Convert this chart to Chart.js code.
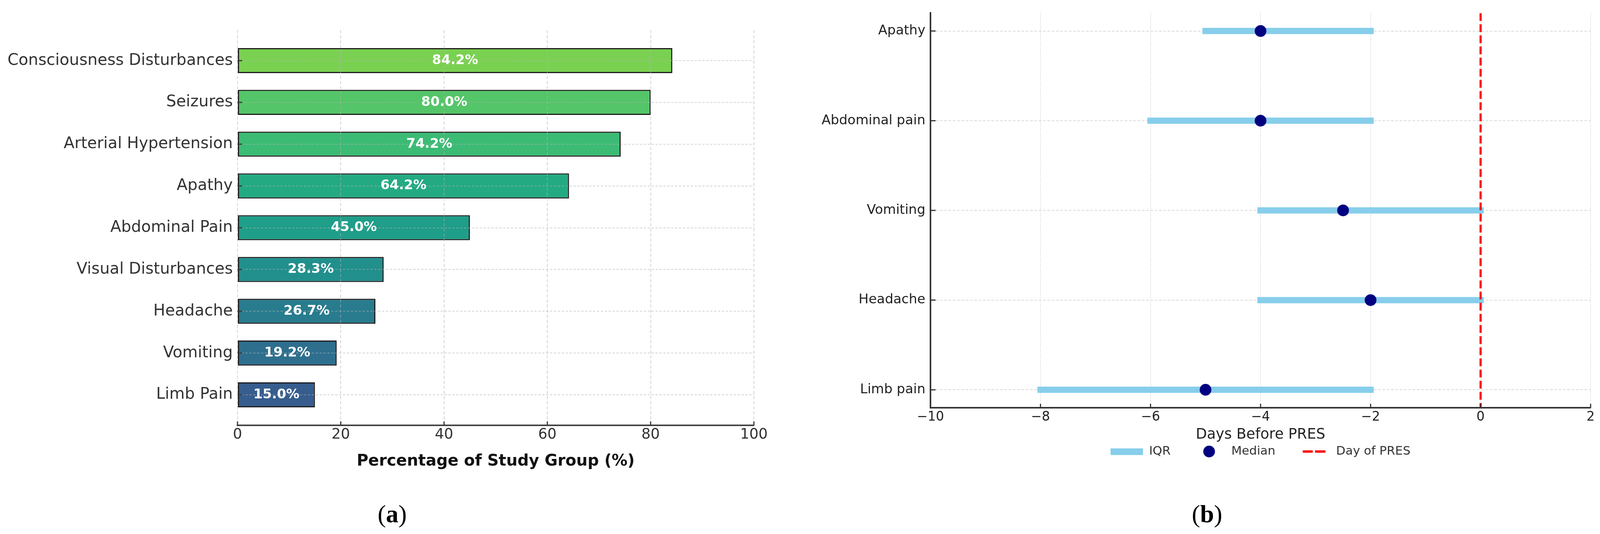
<!DOCTYPE html>
<html>
<head>
<meta charset="utf-8">
<script src="https://cdn.jsdelivr.net/npm/chart.js@4.4.1/dist/chart.umd.min.js"></script>
<style>
  html, body { margin: 0; padding: 0; background: #ffffff; }
  body { width: 4104px; height: 1366px; position: relative; overflow: hidden; }
  canvas { position: absolute; top: 0; }
  .panel { position: absolute; top: 1283px; width: 200px; text-align: center;
           font-family: "Liberation Serif", "Times New Roman", serif; font-size: 64px; line-height: 64px; color: #000; }
  .panel b { font-weight: bold; }
</style>
</head>
<body>
<canvas id="chartA" width="2000" height="1366" style="left:0px;width:2000px;height:1366px"></canvas>
<canvas id="chartB" width="2054" height="1366" style="left:2050px;width:2054px;height:1366px"></canvas>
<div class="panel" style="left:904px">(<b>a</b>)</div>
<div class="panel" style="left:2990px">(<b>b</b>)</div>
<script>
// ---------------- data: panel (a) ----------------
const symptomsA = ['Consciousness Disturbances', 'Seizures', 'Arterial Hypertension', 'Apathy',
                   'Abdominal Pain', 'Visual Disturbances', 'Headache', 'Vomiting', 'Limb Pain'];
const percentA = [84.2, 80.0, 74.2, 64.2, 45.0, 28.3, 26.7, 19.2, 15.0];
const xTicksA = [0, 20, 40, 60, 80, 100];
const titleA = 'Percentage of Study Group (%)';

// ---------------- data: panel (b) ----------------
const symptomsB = ['Apathy', 'Abdominal pain', 'Vomiting', 'Headache', 'Limb pain'];
const iqrLow = [-5, -6, -4, -4, -8];
const iqrHigh = [-2, -2, 0, 0, -2];
const medianDays = [-4, -4, -2.5, -2, -5];
const presDay = 0;
const xTicksB = [-10, -8, -6, -4, -2, 0, 2];
const titleB = 'Days Before PRES';
const legendB = ['IQR', 'Median', 'Day of PRES'];

// ---------------- styles ----------------
const FONT = '"DejaVu Sans", "Noto Sans", sans-serif';
const barColorsA = ['#7AD151', '#54C568', '#3CBB75', '#23AA83', '#1F9E89', '#21908D', '#287C8E', '#2E6F8E', '#365D8D'];

// inside tick marks (drawn from the library's scales)
const insideTicks = {
  id: 'insideTicks',
  afterDraw(chart, args, o) {
    const {ctx, chartArea} = chart;
    const xs = chart.scales.x, ys = chart.scales.y;
    ctx.save();
    ctx.strokeStyle = o.color;
    ctx.lineWidth = o.width;
    xs.ticks.forEach(t => {
      const px = xs.getPixelForValue(t.value);
      ctx.beginPath(); ctx.moveTo(px, chartArea.bottom); ctx.lineTo(px, chartArea.bottom - o.xLen); ctx.stroke();
    });
    ys.ticks.forEach(t => {
      const py = ys.getPixelForValue(t.value);
      ctx.beginPath(); ctx.moveTo(chartArea.left, py); ctx.lineTo(chartArea.left + o.yLen, py); ctx.stroke();
    });
    ctx.restore();
  }
};

// value labels in the middle of each bar
const barValueLabels = {
  id: 'barValueLabels',
  afterDraw(chart) {
    const ctx = chart.ctx;
    const meta = chart.getDatasetMeta(0);
    ctx.save();
    ctx.font = 'bold 34px ' + FONT;
    ctx.fillStyle = '#ffffff';
    ctx.textAlign = 'center';
    ctx.textBaseline = 'middle';
    meta.data.forEach((bar, i) => {
      const p = bar.getProps(['x', 'y', 'base'], true);
      ctx.fillText(percentA[i].toFixed(1) + '%', (p.x + p.base) / 2, p.y);
    });
    ctx.restore();
  }
};

// ---------------- chart (a) ----------------
new Chart(document.getElementById('chartA'), {
  type: 'bar',
  data: {
    datasets: [{
      data: percentA.map((v, i) => ({x: v, y: i})),
      backgroundColor: barColorsA,
      borderColor: '#1e1e1e',
      borderWidth: 3,
      borderSkipped: false,
      barPercentage: 0.6,
      categoryPercentage: 1.0
    }]
  },
  options: {
    indexAxis: 'y',
    responsive: false,
    devicePixelRatio: 1,
    animation: false,
    events: [],
    layout: { padding: { left: 0, right: 70, top: 77, bottom: 0 } },
    plugins: { legend: { display: false }, tooltip: { enabled: false },
               insideTicks: { color: '#3a3a3a', width: 3, xLen: 10, yLen: 12 } },
    scales: {
      x: {
        type: 'linear', min: 0, max: 100, offset: false,
        afterBuildTicks: axis => { axis.ticks = xTicksA.map(v => ({value: v})); },
        afterFit: s => { s.height = 278; },
        ticks: { font: { family: FONT, size: 37 }, color: '#333', padding: 2 },
        grid: { drawTicks: false, offset: false, color: 'rgba(176,176,176,0.55)', lineWidth: 2, z: 1 },
        border: { display: true, color: '#444', width: 4, dash: [8, 5], z: 1 },
        title: { display: true, text: titleA, color: '#111',
                 font: { family: FONT, size: 40.5, weight: 'bold' },
                 padding: { top: 0, bottom: 161.7 } }
      },
      y: {
        type: 'linear', reverse: true, min: -0.73, max: 8.73, offset: false,
        afterBuildTicks: axis => { axis.ticks = symptomsA.map((_, i) => ({value: i})); },
        afterFit: s => { s.width = 608; },
        ticks: { font: { family: FONT, size: 40.5 }, color: '#333', padding: 12,
                 callback: v => symptomsA[v] },
        grid: { drawTicks: false, offset: false, color: 'rgba(176,176,176,0.55)', lineWidth: 2, z: 1 },
        border: { display: false, dash: [6, 4], z: 1 }
      }
    }
  },
  plugins: [insideTicks, barValueLabels]
});

// ---------------- legend handles for chart (b) ----------------
function handleIQR() {
  const c = document.createElement('canvas'); c.width = 83; c.height = 17;
  const g = c.getContext('2d'); g.fillStyle = '#87CEEB'; g.fillRect(0, 0, 83, 17); return c;
}
function handleMedian() {
  const c = document.createElement('canvas'); c.width = 32; c.height = 32;
  const g = c.getContext('2d'); g.fillStyle = '#000080'; g.beginPath(); g.arc(16, 16, 15, 0, Math.PI * 2); g.fill(); return c;
}
function handleDash() {
  const c = document.createElement('canvas'); c.width = 58; c.height = 6;
  const g = c.getContext('2d'); g.fillStyle = '#ff0000'; g.fillRect(0, 0, 26, 6); g.fillRect(32, 0, 26, 6); return c;
}
const handles = [handleIQR(), handleMedian(), handleDash()];

// IQR segments: two points per symptom, broken by a gap point
const iqrPoints = [];
symptomsB.forEach((_, i) => {
  iqrPoints.push({x: iqrLow[i], y: i}, {x: iqrHigh[i], y: i}, {x: iqrHigh[i], y: NaN});
});
const yMinB = -0.2, yMaxB = 4.2;

// ---------------- chart (b) ----------------
new Chart(document.getElementById('chartB'), {
  type: 'line',
  data: {
    datasets: [
      { label: legendB[2], data: [{x: presDay, y: yMinB}, {x: presDay, y: yMaxB}],
        borderColor: '#ff0000', borderWidth: 5.5, borderDash: [20, 8.5], pointRadius: 0, order: 1 },
      { label: legendB[1], data: medianDays.map((v, i) => ({x: v, y: i})), showLine: false,
        pointRadius: 15, pointBackgroundColor: '#000080', pointBorderWidth: 0, order: 2 },
      { label: legendB[0], data: iqrPoints, borderColor: '#87CEEB', borderWidth: 16,
        borderCapStyle: 'square', pointRadius: 0, spanGaps: false, tension: 0, order: 3 }
    ]
  },
  options: {
    responsive: false,
    devicePixelRatio: 1,
    animation: false,
    events: [],
    layout: { padding: { left: 0, right: 32, top: 33, bottom: 185.5 } },
    plugins: {
      tooltip: { enabled: false },
      insideTicks: { color: '#333', width: 3, xLen: 10, yLen: 13 },
      legend: {
        display: true, position: 'bottom', fullSize: false,
        labels: {
          usePointStyle: true, pointStyleWidth: 83, padding: 57,
          font: { family: FONT, size: 31 }, color: '#333',
          generateLabels: () => legendB.map((t, i) => ({
            text: t, pointStyle: handles[i], fillStyle: 'transparent', strokeStyle: 'transparent',
            lineWidth: 0, hidden: false, datasetIndex: i, fontColor: '#333'
          }))
        }
      }
    },
    scales: {
      x: {
        type: 'linear', min: -10, max: 2,
        afterBuildTicks: axis => { axis.ticks = xTicksB.map(v => ({value: v})); },
        afterFit: s => { s.height = 39.5; },
        ticks: { font: { family: FONT, size: 33 }, color: '#222', padding: 4.2,
                 callback: v => (v < 0 ? '\u2212' + Math.abs(v) : String(v)) },
        grid: { drawTicks: false, color: '#cfcfcf', lineWidth: 1.5 },
        border: { display: true, color: '#333', width: 4, dash: [3, 3] },
        title: { display: true, text: titleB, color: '#222',
                 font: { family: FONT, size: 37 }, padding: { top: 0, bottom: -51.7 } }
      },
      y: {
        type: 'linear', reverse: true, min: yMinB, max: yMaxB,
        afterBuildTicks: axis => { axis.ticks = symptomsB.map((_, i) => ({value: i})); },
        afterFit: s => { s.width = 332; },
        ticks: { font: { family: FONT, size: 34 }, color: '#222', padding: 13,
                 callback: v => symptomsB[v] },
        grid: { drawTicks: false, color: '#cfcfcf', lineWidth: 1.5 },
        border: { display: true, color: '#333', width: 4, dash: [7, 4] }
      }
    }
  },
  plugins: [insideTicks]
});
</script>
</body>
</html>
